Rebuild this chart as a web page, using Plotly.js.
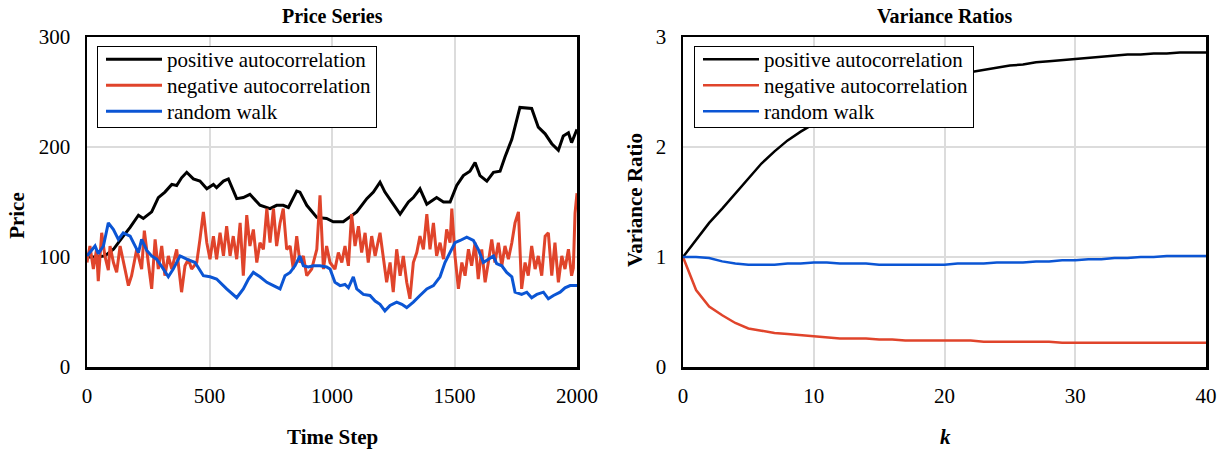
<!DOCTYPE html>
<html>
<head>
<meta charset="utf-8">
<script src="https://cdn.plot.ly/plotly-3.0.1.min.js"></script>
<style>
html,body{margin:0;padding:0;background:#fff;}
#chart{width:1227px;height:452px;}
</style>
</head>
<body>
<div id="chart"></div>
<script>
// ---- Price series (left panel) ----
const posStep = [0,40,73,108,148,176,210,230,264,291,318,346,366,386,407,434,461,489,516,529,557,577,611,638,665,706,747,774,801,822,856,869,897,938,978,1005,1046,1080,1101,1142,1169,1196,1216,1250,1278,1312,1332,1359,1387,1427,1455,1482,1509,1536,1563,1584,1604,1632,1659,1686,1706,1734,1767,1815,1842,1870,1897,1924,1944,1965,1978,2000];
const posPrice = [100,100,101,107,119,127,138,135,141,154,159,166,165,172,177,171,169,162,166,163,169,171,153,154,157,147,144,147,147,145,160,159,147,136,135,132,132,138,141,153,159,168,159,148,139,150,154,162,148,154,150,150,165,174,178,186,174,169,177,178,191,207,236,235,218,212,203,197,210,213,204,216];

const rwStep = [0,12,33,46,67,87,108,128,148,176,189,210,223,244,264,284,312,332,352,380,407,441,475,502,529,570,611,638,659,679,706,734,761,788,808,829,849,869,883,903,924,951,978,992,1012,1033,1053,1067,1087,1101,1128,1155,1176,1196,1216,1237,1264,1285,1305,1332,1359,1387,1414,1441,1461,1482,1502,1523,1550,1577,1597,1618,1638,1659,1672,1693,1713,1734,1747,1774,1795,1815,1836,1863,1883,1904,1931,1951,1972,2000];
const rwPrice = [101,104,110,103,110,131,125,116,122,119,113,104,116,106,101,98,89,82,89,101,98,95,83,82,80,71,63,71,80,86,82,77,74,71,83,86,92,101,92,91,92,92,91,89,77,74,75,72,82,71,66,65,60,57,51,56,59,57,54,59,65,71,74,82,95,104,113,115,118,115,107,95,98,101,94,92,86,82,68,66,68,63,66,68,62,65,68,72,74,74];

const negStep = [0,12,26,39,46,60,73,87,94,108,121,135,155,169,182,203,223,234,250,264,278,291,305,318,332,346,366,386,400,414,427,448,461,475,489,502,516,529,543,557,570,584,597,611,625,638,652,665,679,693,706,720,734,747,761,774,788,801,815,829,842,856,869,883,897,917,938,951,965,978,992,1012,1026,1040,1053,1067,1080,1094,1108,1121,1135,1148,1162,1176,1196,1210,1223,1237,1250,1264,1278,1291,1305,1318,1332,1346,1359,1373,1387,1400,1414,1427,1441,1455,1468,1482,1489,1502,1516,1530,1543,1557,1570,1584,1597,1611,1625,1638,1652,1665,1679,1693,1706,1720,1734,1747,1761,1774,1788,1801,1815,1829,1842,1856,1870,1883,1897,1910,1924,1938,1951,1965,1978,1985,1992,2000];
const negPrice = [95,110,89,107,78,122,101,88,110,95,86,110,89,74,83,107,89,124,95,71,116,89,110,83,101,89,107,68,92,98,89,95,116,141,113,98,119,98,122,101,128,101,119,98,131,83,138,110,125,95,113,107,144,113,144,110,131,144,107,110,89,119,95,101,83,89,107,156,89,110,95,89,104,95,110,92,139,110,128,104,122,95,119,101,122,101,77,95,68,107,83,101,77,62,95,104,119,107,139,107,131,101,113,98,125,113,144,101,71,95,83,107,92,113,80,107,77,95,116,95,113,92,110,98,113,131,141,71,95,83,110,89,101,83,119,122,83,113,77,101,89,107,83,90,140,158];

// ---- Variance ratios (right panel) ----
const kVals = [0,1,2,3,4,5,6,7,8,9,10,11,12,13,14,15,16,17,18,19,20,21,22,23,24,25,26,27,28,29,30,31,32,33,34,35,36,37,38,39,40];
const vrPos = [1.00,1.16,1.31,1.44,1.58,1.72,1.85,1.96,2.06,2.14,2.21,2.28,2.34,2.40,2.45,2.49,2.52,2.56,2.59,2.62,2.64,2.66,2.68,2.70,2.72,2.74,2.75,2.77,2.78,2.79,2.80,2.81,2.82,2.83,2.84,2.84,2.85,2.85,2.86,2.86,2.86];
const vrNeg = [1.00,0.70,0.55,0.47,0.40,0.35,0.33,0.31,0.30,0.29,0.28,0.27,0.26,0.26,0.26,0.25,0.25,0.24,0.24,0.24,0.24,0.24,0.24,0.23,0.23,0.23,0.23,0.23,0.23,0.22,0.22,0.22,0.22,0.22,0.22,0.22,0.22,0.22,0.22,0.22,0.22];
const vrRW  = [1.00,1.00,0.99,0.96,0.94,0.93,0.93,0.93,0.94,0.94,0.95,0.95,0.94,0.94,0.94,0.93,0.93,0.93,0.93,0.93,0.93,0.94,0.94,0.94,0.95,0.95,0.95,0.96,0.96,0.97,0.97,0.98,0.98,0.99,0.99,1.00,1.00,1.01,1.01,1.01,1.01];

const seriesNames = ['positive autocorrelation','negative autocorrelation','random walk'];
const colors = ['#000000','#e0442b','#0b55d4'];

const FONT = 'Liberation Serif';

const traces = [
  {x:posStep, y:posPrice, name:seriesNames[0], line:{color:colors[0], width:3}, xaxis:'x', yaxis:'y', legend:'legend'},
  {x:negStep, y:negPrice, name:seriesNames[1], line:{color:colors[1], width:3}, xaxis:'x', yaxis:'y', legend:'legend'},
  {x:rwStep, y:rwPrice, name:seriesNames[2], line:{color:colors[2], width:3}, xaxis:'x', yaxis:'y', legend:'legend'},
  {x:kVals, y:vrPos, name:seriesNames[0], line:{color:colors[0], width:2.5}, xaxis:'x2', yaxis:'y2', legend:'legend2'},
  {x:kVals, y:vrNeg, name:seriesNames[1], line:{color:colors[1], width:2.5}, xaxis:'x2', yaxis:'y2', legend:'legend2'},
  {x:kVals, y:vrRW, name:seriesNames[2], line:{color:colors[2], width:2.5}, xaxis:'x2', yaxis:'y2', legend:'legend2'}
].map(t => Object.assign({type:'scatter', mode:'lines', hoverinfo:'skip'}, t));

const W = 1227, H = 452, PH = 330;
const axBase = {
  showgrid:true, gridcolor:'#dcdcdc', gridwidth:2,
  showline:true, linecolor:'#000', linewidth:2.5, mirror:true,
  zeroline:false, ticks:'', ticklen:0,
  tickfont:{family:FONT, size:21, color:'#000'},
  fixedrange:true
};

const legBase = {
  bgcolor:'#fff', bordercolor:'#000', borderwidth:1,
  font:{family:FONT, size:21, color:'#000'},
  xanchor:'left', yanchor:'top', tracegroupgap:0,
  itemwidth:59
};

const tFont = (s) => ({family:FONT, size:s, color:'#000'});

const layout = {
  width:W, height:H,
  font:{family:FONT, color:'#000'},
  margin:{l:0, r:0, t:37, b:85},
  paper_bgcolor:'#fff', plot_bgcolor:'#fff',
  showlegend:true,
  xaxis: Object.assign({}, axBase, {domain:[87/W, 577/W], range:[0,2000], tickvals:[0,500,1000,1500,2000], ticklabelstandoff:8, anchor:'y'}),
  yaxis: Object.assign({}, axBase, {domain:[0,1], range:[0,300], tickvals:[0,100,200,300], ticklabelstandoff:10, anchor:'x'}),
  xaxis2: Object.assign({}, axBase, {domain:[683/W, 1206/W], range:[0,40], tickvals:[0,10,20,30,40], ticklabelstandoff:8, anchor:'y2'}),
  yaxis2: Object.assign({}, axBase, {domain:[0,1], range:[0,3], tickvals:[0,1,2,3], ticklabelstandoff:10, anchor:'x2'}),
  legend: Object.assign({}, legBase, {x:97/W, y:1.0 - 9/PH}),
  legend2: Object.assign({}, legBase, {x:694/W, y:1.0 - 9/PH}),
  annotations:[
    {text:'<b>Price Series</b>', xref:'paper', yref:'paper', x:332/W, xanchor:'center', y:1, yanchor:'middle', yshift:21, showarrow:false, font:tFont(20)},
    {text:'<b>Variance Ratios</b>', xref:'paper', yref:'paper', x:945/W, xanchor:'center', y:1, yanchor:'middle', yshift:21, showarrow:false, font:tFont(20)},
    {text:'<b>Time Step</b>', xref:'paper', yref:'paper', x:332/W, xanchor:'center', y:0, yanchor:'middle', yshift:-70, showarrow:false, font:tFont(21)},
    {text:'<b><i>k</i></b>', xref:'paper', yref:'paper', x:945/W, xanchor:'center', y:0, yanchor:'middle', yshift:-70, showarrow:false, font:tFont(21)},
    {text:'<b>Price</b>', xref:'paper', yref:'paper', x:17/W, xanchor:'center', y:0.458, yanchor:'middle', textangle:-90, showarrow:false, font:tFont(21)},
    {text:'<b>Variance Ratio</b>', xref:'paper', yref:'paper', x:635/W, xanchor:'center', y:0.506, yanchor:'middle', textangle:-90, showarrow:false, font:tFont(21)}
  ]
};

Plotly.newPlot('chart', traces, layout, {displayModeBar:false, staticPlot:true}).then(gd => {
  // reference legend style: long sample lines and tighter rows
  gd.querySelectorAll('g.legend, g.legend2').forEach(leg => {
    leg.querySelectorAll('.legendlines path').forEach(p => p.setAttribute('d', 'M8,0h56'));
    const items = leg.querySelectorAll('.traces');
    let y0 = null;
    items.forEach((it, i) => {
      const tr = it.getAttribute('transform') || '';
      const m = /translate\(\s*([-\d.]+)[ ,]+([-\d.]+)\s*\)/.exec(tr);
      if (!m) return;
      const x = parseFloat(m[1]), y = parseFloat(m[2]);
      if (y0 === null) y0 = y;
      it.setAttribute('transform', 'translate(' + x + ',' + (y0 - 8 + 26 * i) + ')');
    });
    const bg = leg.querySelector('rect.bg');
    if (bg) bg.setAttribute('height', 81);
  });
});
</script>
</body>
</html>
